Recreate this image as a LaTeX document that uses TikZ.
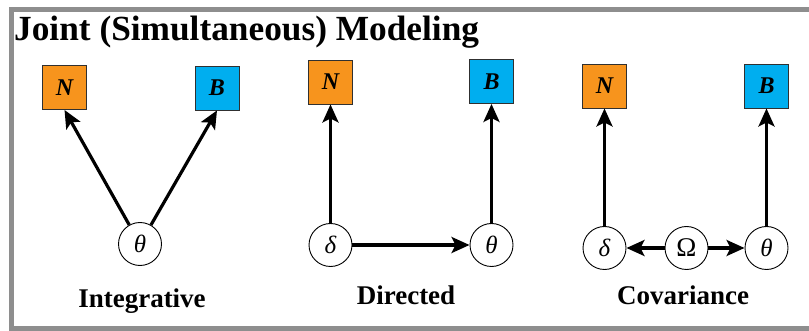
\documentclass[tikz,border=0pt]{standalone}
\usepackage{fontspec}
\setmainfont{Liberation Serif}
\usetikzlibrary{arrows.meta}
\definecolor{frameGray}{HTML}{8E8E8E}
\definecolor{nOrange}{HTML}{F7941D}
\definecolor{bBlue}{HTML}{00AEEF}
\definecolor{edgeGray}{HTML}{303030}
\tikzset{
  obsbox/.style={draw=edgeGray, line width=0.9pt, minimum width=44pt, minimum height=44pt,
    inner sep=0pt, font=\fontsize{24}{24}\selectfont\bfseries\itshape},
  nbox/.style={obsbox, fill=nOrange},
  bbox/.style={obsbox, fill=bBlue},
  latent/.style={draw=black, line width=0.9pt, circle, minimum size=43pt, inner sep=0pt,
    font=\fontsize{25}{25}\selectfont, fill=white},
  link/.style={line width=3.2pt, -{Stealth[length=18pt, width=16pt, inset=4pt]}},
  caption/.style={font=\fontsize{27}{27}\selectfont\bfseries, anchor=base},
}
\begin{document}
\begin{tikzpicture}[x=1pt, y=-1pt]
  \useasboundingbox (0,0) rectangle (809,331);
  \clip (0,0) rectangle (809,331);
  % outer frame, open on the right
  \draw[frameGray, line width=5pt] (830,9.5) -- (11.5,9.5) -- (11.5,328.5) -- (830,328.5);

  % title
  \node[anchor=base west, inner sep=0pt, font=\fontsize{35.3}{36}\selectfont\bfseries] (title) at (14,41)
    {Joint (Simultaneous) Modeling};

  % integrative
  \node[nbox] (iN) at (64.5,87.5) {N};
  \node[bbox] (iB) at (217,88) {B};
  \node[latent] (iT) at (140,244) {\itshape θ};
  \draw[link] (iT) -- (iN.south);
  \draw[link] (iT) -- (iB.south);
  \node[caption] (iL) at (142,307) {Integrative};

  % directed
  \node[nbox] (dN) at (330.5,82) {N};
  \node[bbox] (dB) at (491.5,81.5) {B};
  \node[latent] (dD) at (330.5,245) {\itshape δ};
  \node[latent] (dT) at (491.5,245) {\itshape θ};
  \draw[link] (dD) -- (dN);
  \draw[link] (dT) -- (dB);
  \draw[link] (dD) -- (dT);
  \node[caption] (dL) at (406,305) {Directed};

  % covariance
  \node[nbox] (cN) at (604.5,86) {N};
  \node[bbox] (cB) at (766.5,86) {B};
  \node[latent] (cD) at (604.5,248) {\itshape δ};
  \node[latent] (cO) at (686.5,248) {\fontsize{27}{27}\selectfont Ω};
  \node[latent] (cT) at (766.5,248) {\itshape θ};
  \draw[link] (cD) -- (cN);
  \draw[link] (cT) -- (cB);
  \draw[link] (cO) -- (cD);
  \draw[link] (cO) -- (cT);
  \node[caption] (cL) at (683,305) {Covariance};
\end{tikzpicture}
\end{document}
